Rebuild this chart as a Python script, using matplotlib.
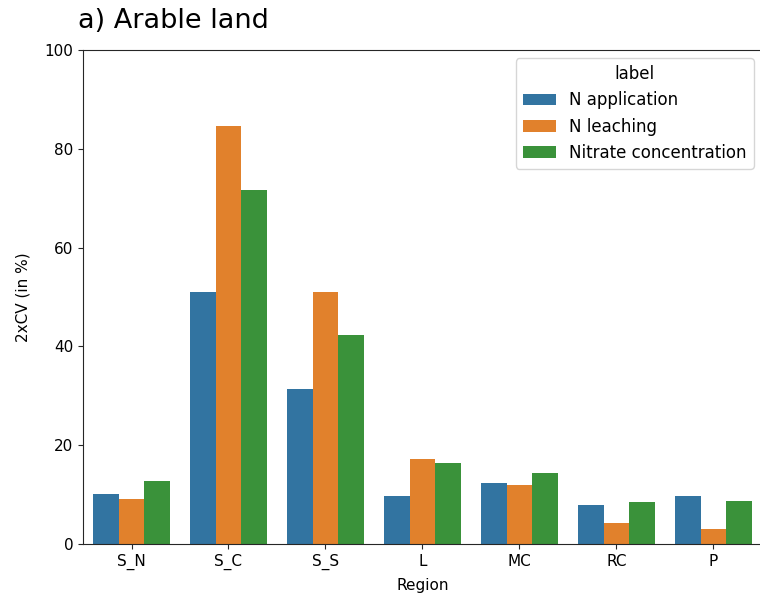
import matplotlib
matplotlib.use("Agg")
import matplotlib.pyplot as plt
import numpy as np

# regiones y valores (2xCV en %)
regiones = ['S_N', 'S_C', 'S_S', 'L', 'MC', 'RC', 'P']
n_aplicacion = [10.1, 51.0, 31.4, 9.7, 12.3, 7.9, 9.7]
n_lixiviacion = [9.2, 84.7, 51.0, 17.3, 12.0, 4.2, 3.1]
nitrato = [12.7, 71.7, 42.4, 16.4, 14.3, 8.6, 8.8]

series = ['N application', 'N leaching', 'Nitrate concentration']
colores = ['#3274a1', '#e1812c', '#3a923a']

fig = plt.figure(figsize=(7.6, 5.98), dpi=100)
ax = fig.add_axes([83/760, 1 - 544/598, 679/760, 494/598])

x = np.arange(len(regiones))
ancho = 0.8 / 3
for i, (vals, nombre, c) in enumerate(zip([n_aplicacion, n_lixiviacion, nitrato], series, colores)):
    ax.bar(x + (i - 1) * ancho, vals, width=ancho, color=c, label=nombre)

gris = '#262626'
ax.set_xticks(x)
ax.set_xticklabels(regiones, fontsize=11)
ax.tick_params(axis='y', labelsize=11)
ax.tick_params(colors=gris, labelcolor='black')
for s in ['left', 'bottom', 'top']:
    ax.spines[s].set_color(gris)
ax.spines['right'].set_visible(False)

ax.set_xlim(-0.5, len(regiones) - 0.5)
ax.set_ylim(0, 100)
ax.set_xlabel('Region', fontsize=11, labelpad=6)
ax.set_ylabel('2xCV (in %)', fontsize=11, labelpad=10)
ax.set_title('a) Arable land', loc='left', fontsize=19.5, x=-0.008, pad=16)

ax.legend(title='label', fontsize=12, title_fontsize=12, loc='upper right')

plt.savefig('out.png', dpi=100)
